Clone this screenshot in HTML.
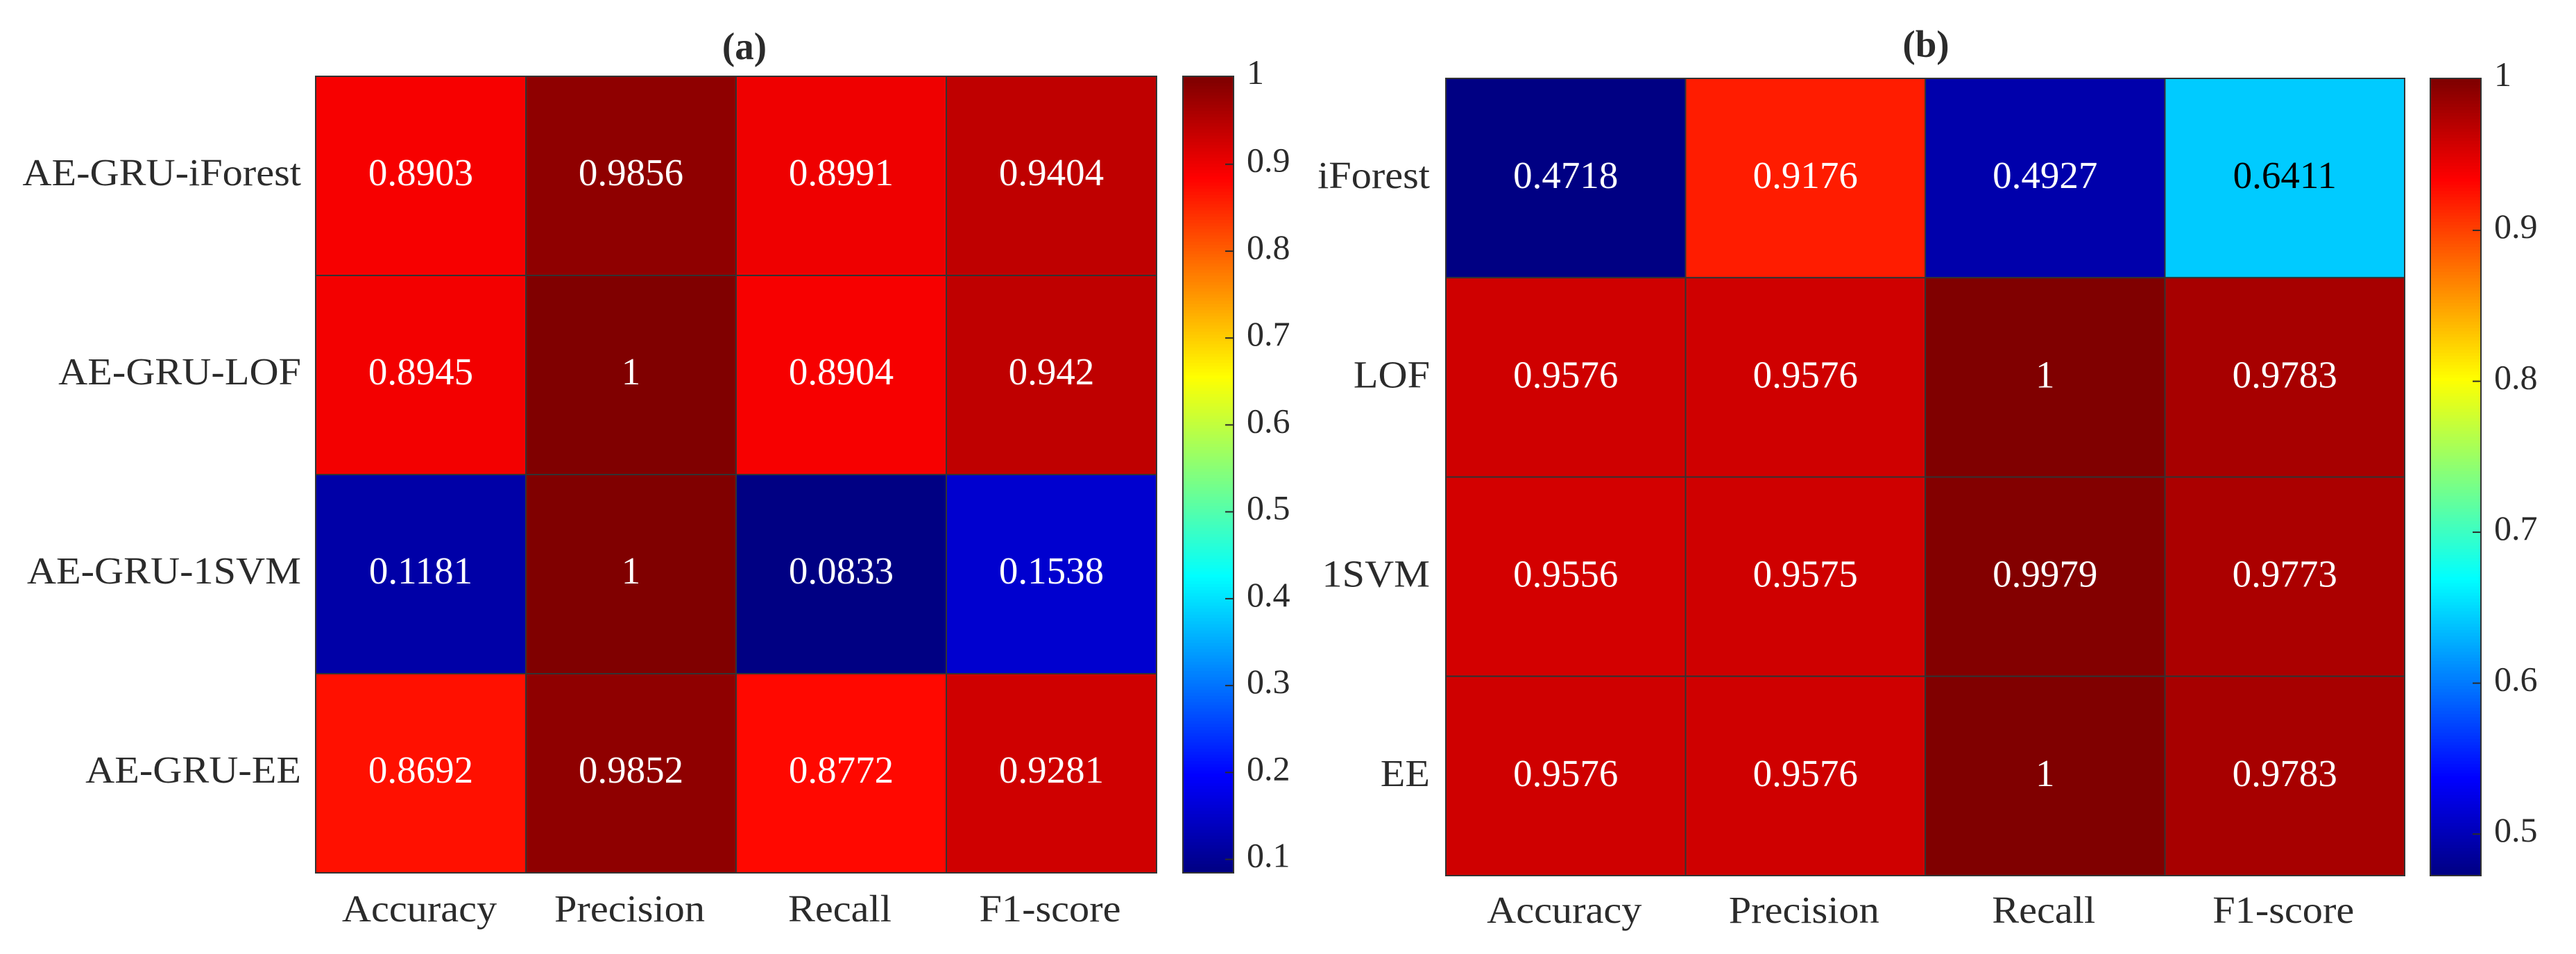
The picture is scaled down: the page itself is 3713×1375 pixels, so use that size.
<!DOCTYPE html>
<html lang="en">
<head>
<meta charset="utf-8">
<title>Heatmaps of anomaly detection metrics</title>
<style>
html,body{margin:0;padding:0;background:#fff;}
svg{display:block;font-family:"Liberation Serif",serif;}
</style>
</head>
<body>
<svg id="figure" xmlns="http://www.w3.org/2000/svg" width="3713" height="1375" viewBox="0 0 3713 1375"></svg>
<script>
const metricLabels = ["Accuracy", "Precision", "Recall", "F1-score"];
const rowLabelsA = ["AE-GRU-iForest", "AE-GRU-LOF", "AE-GRU-1SVM", "AE-GRU-EE"];
const rowLabelsB = ["iForest", "LOF", "1SVM", "EE"];
const valuesA1 = [0.8903, 0.9856, 0.8991, 0.9404];
const valuesA2 = [0.8945, 1, 0.8904, 0.942];
const valuesA3 = [0.1181, 1, 0.0833, 0.1538];
const valuesA4 = [0.8692, 0.9852, 0.8772, 0.9281];
const valuesB1 = [0.4718, 0.9176, 0.4927, 0.6411];
const valuesB2 = [0.9576, 0.9576, 1, 0.9783];
const valuesB3 = [0.9556, 0.9575, 0.9979, 0.9773];
const valuesB4 = [0.9576, 0.9576, 1, 0.9783];
const colorbarTicksA = [0.1, 0.2, 0.3, 0.4, 0.5, 0.6, 0.7, 0.8, 0.9, 1];
const colorbarTicksB = [0.5, 0.6, 0.7, 0.8, 0.9, 1];

const NS = "http://www.w3.org/2000/svg";
const svg = document.getElementById("figure");
const INK = "#2b2b2b";
const LABEL_STRETCH = 1.06;

function clamp01(x) { return Math.max(0, Math.min(1, x)); }

function jet(f) {
  const i = Math.min(255, Math.floor(clamp01(f) * 256)) + 1;
  const r = clamp01(Math.min((i - 96) / 64, (288 - i) / 64));
  const g = clamp01(Math.min((i - 32) / 64, (224 - i) / 64));
  const b = clamp01(Math.min((i + 32) / 64, (160 - i) / 64));
  return [r, g, b];
}
function css(c) {
  return "rgb(" + c.map(function (x) { return Math.round(x * 255); }).join(",") + ")";
}
function shape(parent, tag, attrs, text) {
  const el = document.createElementNS(NS, tag);
  Object.keys(attrs).forEach(function (k) { el.setAttribute(k, attrs[k]); });
  if (text !== undefined) el.textContent = text;
  parent.appendChild(el);
  return el;
}
function stretch(el) {
  el.setAttribute("textLength", (el.getComputedTextLength() * LABEL_STRETCH).toFixed(1));
  el.setAttribute("lengthAdjust", "spacingAndGlyphs");
}

function drawPanel(cfg) {
  const all = [].concat.apply([], cfg.values);
  const vMin = Math.min.apply(null, all);
  const vMax = Math.max.apply(null, all);
  const colW = (cfg.right - cfg.left) / cfg.cols.length;
  const rowH = (cfg.bottom - cfg.top) / cfg.rows.length;
  const xBand = function (c) { return cfg.left + c * colW; };
  const yBand = function (r) { return cfg.top + r * rowH; };
  const norm = function (v) { return (v - vMin) / (vMax - vMin); };
  const yBar = function (v) { return cfg.top + (1 - norm(v)) * (cfg.bottom - cfg.top); };

  const group = shape(svg, "g", {});
  
  

  const title = shape(group, "text", {
    x: cfg.titleX, y: cfg.titleY, "text-anchor": "middle", "font-size": 55,
    "font-weight": "bold", fill: INK
  }, cfg.title);
  
  

  cfg.values.forEach(function (rowVals, r) {
    rowVals.forEach(function (v, c) {
      const color = jet(norm(v));
      const cell = shape(group, "rect", {
        x: xBand(c), y: yBand(r), width: colW, height: rowH,
        fill: css(color), stroke: "#333", "stroke-width": 2
      });
      
      
    });
  });

  cfg.values.forEach(function (rowVals, r) {
    rowVals.forEach(function (v, c) {
      const color = jet(norm(v));
      const lum = 0.299 * color[0] + 0.587 * color[1] + 0.114 * color[2];
      const label = shape(group, "text", {
        x: xBand(c) + colW / 2, y: yBand(r) + rowH / 2 + cfg.baseline,
        "text-anchor": "middle", "font-size": 55, fill: lum > 0.5 ? "#000" : "#fff"
      }, String(v));
      
      
    });
  });

  cfg.rows.forEach(function (name, r) {
    const label = shape(group, "text", {
      x: cfg.left - cfg.rowGap, y: yBand(r) + rowH / 2 + cfg.baseline,
      "text-anchor": "end", "font-size": 55, fill: INK
    }, name);
    
    
    stretch(label);
  });

  cfg.cols.forEach(function (name, c) {
    const label = shape(group, "text", {
      x: xBand(c) + colW / 2 - 2, y: cfg.xLabelY,
      "text-anchor": "middle", "font-size": 55, fill: INK
    }, name);
    
    
    stretch(label);
  });

  const bar = shape(group, "g", {});
  
  
  const levels = 256;
  const bandH = (cfg.bottom - cfg.top) / levels;
  for (let k = 0; k < levels; k++) {
    const band = shape(bar, "rect", {
      x: cfg.barLeft, y: cfg.bottom - (k + 1) * bandH, width: cfg.barRight - cfg.barLeft,
      height: bandH + 0.6, fill: css(jet((k + 0.5) / levels))
    });
    
    
  }
  const frame = shape(bar, "rect", {
    x: cfg.barLeft, y: cfg.top, width: cfg.barRight - cfg.barLeft, height: cfg.bottom - cfg.top,
    fill: "none", stroke: "#333", "stroke-width": 2
  });
  
  

  cfg.ticks.forEach(function (t) {
    const y = yBar(t) + (t >= vMax ? 0 : 1.5);
    if (t < vMax) {
      const tick = shape(bar, "line", {
        x1: cfg.barRight - 12, x2: cfg.barRight, y1: y, y2: y, stroke: "#2b2b2b", "stroke-width": 2
      });
      
      
    }
    const tickLabel = shape(bar, "text", {
      x: cfg.barRight + 19, y: y + 11, "font-size": 50, fill: INK
    }, String(t));
    
    
  });
}

drawPanel({
  id: "panel-a", title: "(a)", titleX: 1073, titleY: 85,
  left: 455, right: 1667, top: 110, bottom: 1258,
  barLeft: 1705, barRight: 1778, rowGap: 21, baseline: 13.5, xLabelY: 1328,
  rows: rowLabelsA, cols: metricLabels,
  values: [valuesA1, valuesA2, valuesA3, valuesA4], ticks: colorbarTicksA
});
drawPanel({
  id: "panel-b", title: "(b)", titleX: 2776, titleY: 82,
  left: 2084, right: 3466, top: 113, bottom: 1262,
  barLeft: 3503, barRight: 3576, rowGap: 23, baseline: 14.5, xLabelY: 1330,
  rows: rowLabelsB, cols: metricLabels,
  values: [valuesB1, valuesB2, valuesB3, valuesB4], ticks: colorbarTicksB
});
</script>
</body>
</html>
